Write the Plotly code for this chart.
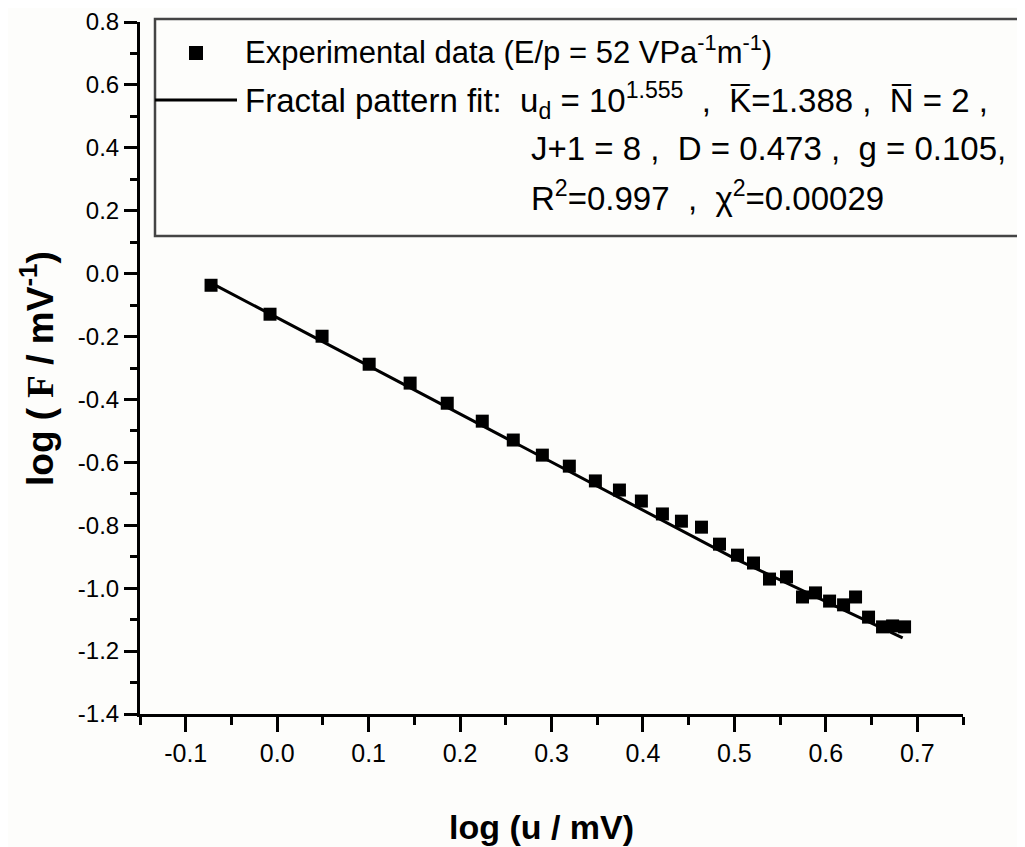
import plotly.graph_objects as go

# ---- data ----
log_u = [-0.0723, -0.0078, 0.0491, 0.1006, 0.1454, 0.1860, 0.2243, 0.2582, 0.2900, 0.3195,
         0.3480, 0.3743, 0.3983, 0.4213, 0.4421, 0.4640, 0.4837, 0.5034, 0.5209, 0.5384,
         0.5570, 0.5745, 0.5887, 0.6041, 0.6194, 0.6325, 0.6467, 0.6620, 0.6730, 0.6861]
log_F = [-0.037, -0.129, -0.199, -0.288, -0.348, -0.412, -0.469, -0.529, -0.577, -0.612,
         -0.659, -0.688, -0.723, -0.764, -0.787, -0.806, -0.860, -0.895, -0.920, -0.971,
         -0.964, -1.028, -1.015, -1.041, -1.053, -1.028, -1.092, -1.123, -1.120, -1.123]

fit_u = [-0.072, 0.10, 0.30, 0.50, 0.684]
fit_F = [-0.030, -0.293, -0.600, -0.905, -1.158]

x_tickvals = [-0.1, 0.0, 0.1, 0.2, 0.3, 0.4, 0.5, 0.6, 0.7]
x_ticktext = ["-0.1", "0.0", "0.1", "0.2", "0.3", "0.4", "0.5", "0.6", "0.7"]
y_tickvals = [-1.4, -1.2, -1.0, -0.8, -0.6, -0.4, -0.2, 0.0, 0.2, 0.4, 0.6, 0.8]
y_ticktext = ["-1.4", "-1.2", "-1.0", "-0.8", "-0.6", "-0.4", "-0.2", "0.0", "0.2", "0.4", "0.6", "0.8"]

legend_lines = [
    "Experimental data (E/p = 52 VPa<sup>-1</sup>m<sup>-1</sup>)",
    "Fractal pattern fit:  u<sub>d</sub> = 10<sup>1.555</sup>  ,  K\u0305=1.388 ,  N\u0305 = 2 ,",
    "J+1 = 8 ,  D = 0.473 ,  g = 0.105,",
    "R<sup>2</sup>=0.997  ,  \u03c7<sup>2</sup>=0.00029",
]

# ---- layout geometry (screen pixels; page body has an 8px margin) ----
OFF = 8
W, H = 1025 - OFF, 847 - OFF
PL, PR, PT, PB = 140, 963, 22, 714          # plot area edges on screen
L, R, T, B = PL - OFF, W - (PR - OFF), PT - OFF, H - (PB - OFF)
PW, PH = W - L - R, H - T - B

def px(x):
    return (x - OFF - L) / PW

def py(y):
    return (H - B - (y - OFF)) / PH

ARIAL = "Liberation Sans, Arial, sans-serif"

fig = go.Figure()
fig.add_trace(go.Scatter(x=fit_u, y=fit_F, mode="lines",
                         line=dict(color="black", width=3), showlegend=False))
fig.add_trace(go.Scatter(x=log_u, y=log_F, mode="markers",
                         marker=dict(symbol="square", size=13, color="black"),
                         showlegend=False))

axis_common = dict(showline=True, linecolor="black", linewidth=3, ticks="outside",
                   tickwidth=3, tickcolor="black", showgrid=False, zeroline=False,
                   mirror=False)

fig.update_xaxes(range=[-0.15, 0.75], tickmode="array", tickvals=x_tickvals,
                 ticktext=x_ticktext, ticklen=15,
                 tickfont=dict(family=ARIAL, size=25, color="black"),
                 minor=dict(dtick=0.05, tick0=0, ticklen=8, tickwidth=3,
                            tickcolor="black", ticks="outside", showgrid=False),
                 **axis_common)
fig.update_yaxes(range=[-1.4, 0.8], tickmode="array", tickvals=y_tickvals,
                 ticktext=y_ticktext, ticklen=13,
                 tickfont=dict(family=ARIAL, size=24, color="black"),
                 minor=dict(dtick=0.1, tick0=0, ticklen=7, tickwidth=3,
                            tickcolor="black", ticks="outside", showgrid=False),
                 **axis_common)

shapes = [
    # legend frame
    dict(type="rect", xref="paper", yref="paper", x0=px(155), x1=px(1200),
         y0=py(236), y1=py(19), line=dict(color="#444444", width=2.5),
         fillcolor="rgba(0,0,0,0)"),
    # legend marker sample
    dict(type="rect", xref="paper", yref="paper", x0=px(189), x1=px(203),
         y0=py(60), y1=py(46), line=dict(width=0), fillcolor="black"),
    # legend line sample
    dict(type="line", xref="paper", yref="paper", x0=px(155), x1=px(237),
         y0=py(100), y1=py(100), line=dict(color="black", width=3)),
]

line_specs = [  # (left edge, centre y, font size) in screen pixels
    (243, 50, 31),
    (243, 101, 33),
    (529, 149, 33),
    (529, 196, 33),
]
annotations = []
for txt, (xl, yc, fs) in zip(legend_lines, line_specs):
    annotations.append(dict(text=txt, x=px(xl), y=py(yc), xref="paper", yref="paper",
                            xanchor="left", yanchor="middle", showarrow=False,
                            font=dict(family=ARIAL, size=fs, color="black")))
annotations += [
    # axis titles
    dict(text="<b>log (u / mV)</b>", x=px(541), y=py(827), xref="paper", yref="paper",
         xanchor="center", yanchor="middle", showarrow=False,
         font=dict(family=ARIAL, size=34, color="black")),
    dict(text="<b>log ( <span style=\"font-family:'Liberation Serif', 'Times New Roman', serif\">F</span> / mV<sup>-1</sup>)</b>",
         x=px(38), y=py(369), xref="paper", yref="paper", textangle=-90,
         xanchor="center", yanchor="middle", showarrow=False,
         font=dict(family=ARIAL, size=37, color="black")),
]

fig.update_layout(width=W, height=H, margin=dict(l=L, r=R, t=T, b=B, autoexpand=False),
                  paper_bgcolor="#fdfdfb", plot_bgcolor="#fdfdfb",
                  shapes=shapes, annotations=annotations, showlegend=False)

fig.write_html("out.html")
